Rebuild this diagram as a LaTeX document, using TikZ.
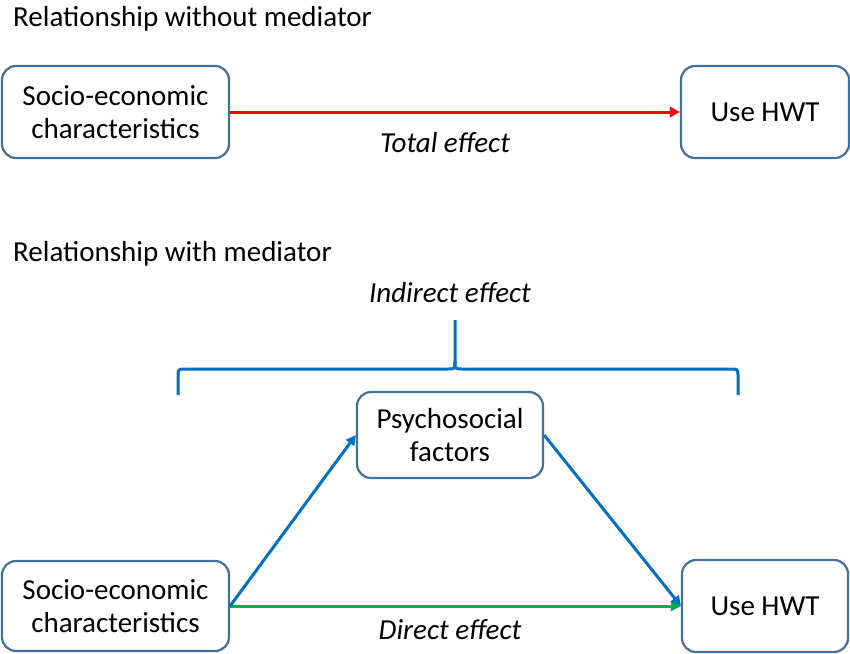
\documentclass[tikz,border=0pt]{standalone}
\usepackage{fontspec}
\setmainfont{Carlito}
\usetikzlibrary{arrows.meta}
\definecolor{boxline}{HTML}{41719C}
\definecolor{pred}{HTML}{FF0000}
\definecolor{pblue}{HTML}{0070C0}
\definecolor{pgreen}{HTML}{00B050}
\begin{document}
\begin{tikzpicture}[x=1pt,y=-1pt,
  box/.style={draw=boxline,line width=2.2pt,rounded corners=14pt,align=center,inner sep=0pt,
    font=\fontsize{29}{33}\selectfont},
  lbl/.style={font=\fontsize{29}{33}\selectfont\itshape,inner sep=0pt},
  ttl/.style={font=\fontsize{29}{33}\selectfont,inner sep=0pt,anchor=west},
  arr/.style={line width=3pt,-{Triangle[length=10pt,width=10pt]}}]
\useasboundingbox (0,0) rectangle (850,653);
\node[ttl] (t1) at (13,19) {Relationship without mediator};
\node[ttl] (t2) at (13,254) {Relationship with mediator};
\node[box,minimum width=227pt,minimum height=92pt] (tl) at (115.5,112) {Socio-economic\\characteristics};
\node[box,minimum width=168pt,minimum height=92pt] (tr) at (765,112) {Use HWT};
\node[box,minimum width=186pt,minimum height=86pt] (ps) at (450,435) {Psychosocial\\factors};
\node[box,minimum width=227pt,minimum height=90pt] (bl) at (115.5,606) {Socio-economic\\characteristics};
\node[box,minimum width=166pt,minimum height=92pt] (br) at (765,606) {Use HWT};
\draw[arr,pred] (tl.east) -- (tr.west);
\draw[arr,pgreen] (bl.east) -- (br.west);
\draw[arr,pblue] (bl.east) -- (ps.west);
\draw[arr,pblue] (ps.east) -- (br.west);
\node[lbl] (te) at (445,143) {Total effect};
\node[lbl] (de) at (450,630) {Direct effect};
\node[lbl] (ie) at (450,293) {Indirect effect};
\draw[pblue,line width=3pt] (178,395) -- (178,377) .. controls (178,369) .. (186,369) -- (447,369) .. controls (455,369) .. (455,361) -- (455,320);
\draw[pblue,line width=3pt] (455,361) .. controls (455,369) .. (463,369) -- (730,369) .. controls (738,369) .. (738,377) -- (738,395);
\end{tikzpicture}
\end{document}
